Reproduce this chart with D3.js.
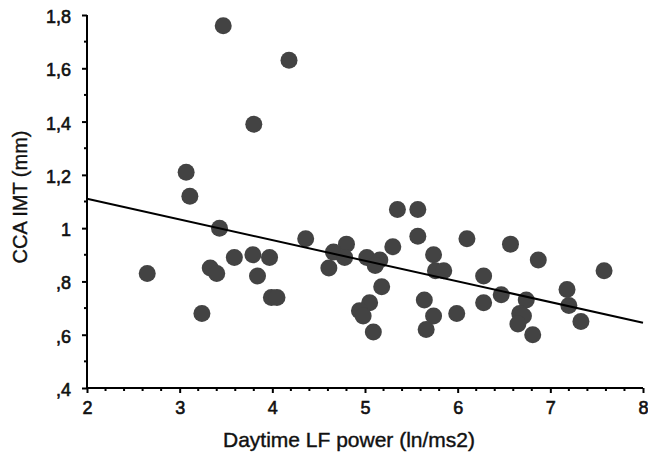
<!DOCTYPE html>
<html>
<head>
<meta charset="utf-8">
<script src="https://cdn.jsdelivr.net/npm/d3@7"></script>
<style>
  body { margin: 0; background: #fff; }
  text { font-family: "Liberation Sans", Arial, sans-serif; fill: #111; }
</style>
</head>
<body>
<div class="svg"></div>
<script>
// data
var lfPower = [3.47, 4.18, 3.80, 3.07, 3.11, 3.43, 2.65, 3.33, 3.40, 3.59,
               3.79, 3.97, 3.84, 3.99, 4.05, 3.24, 4.36, 4.80, 4.66, 4.78,
               4.61, 5.02, 5.16, 5.11, 5.30, 5.35, 5.57, 5.57, 5.18, 5.05,
               4.94, 4.98, 5.09, 5.64, 5.66, 5.74, 5.76, 5.85, 6.10, 6.57,
               6.87, 6.28, 6.47, 6.74, 5.74, 5.99, 6.28, 6.67, 6.71, 6.65,
               6.81, 7.58, 7.18, 7.20, 7.33];
var imt =     [1.76, 1.63, 1.39, 1.21, 1.12, 1.00, 0.83, 0.85, 0.83, 0.89,
               0.90, 0.89, 0.82, 0.74, 0.74, 0.68, 0.96, 0.94, 0.91, 0.89,
               0.85, 0.89, 0.88, 0.86, 0.93, 1.07, 1.07, 0.97, 0.78, 0.72,
               0.69, 0.67, 0.61, 0.73, 0.62, 0.90, 0.84, 0.84, 0.96, 0.94,
               0.88, 0.82, 0.75, 0.73, 0.67, 0.68, 0.72, 0.68, 0.67, 0.64,
               0.60, 0.84, 0.77, 0.71, 0.65];
var regX = [2, 8],
    regY = [1.11, 0.645];
var xTicks = [2, 3, 4, 5, 6, 7, 8],
    yTicks = [1.8, 1.6, 1.4, 1.2, 1.0, 0.8, 0.6, 0.4],
    yTickLabels = ["1,8", "1,6", "1,4", "1,2", "1", ",8", ",6", ",4"];

var width = 648,
    height = 457;

var svg = d3.select(".svg").append("svg")
    .attr("width", width)
    .attr("height", height);

var x = d3.scaleLinear().domain([2, 8]).range([87, 643]);
var y = d3.scaleLinear().domain([0.4, 1.8]).range([388, 15]);

// points
svg.append("g").selectAll("circle")
    .data(d3.range(lfPower.length))
    .enter().append("circle")
    .attr("cx", function (i) { return x(lfPower[i]); })
    .attr("cy", function (i) { return y(imt[i]); })
    .attr("r", 8.5)
    .attr("fill", "#434343");

// regression line
var line = d3.line()
    .x(function (d) { return x(d[0]); })
    .y(function (d) { return y(d[1]); });
svg.append("path")
    .attr("d", line(d3.zip(regX, regY)))
    .attr("fill", "none")
    .attr("stroke", "#000")
    .attr("stroke-width", 2);

// y axis
var yAxis = d3.axisLeft(y)
    .tickValues(yTicks)
    .tickSize(5)
    .tickPadding(11)
    .tickFormat(function (d, i) { return yTickLabels[i]; });
var gy = svg.append("g").attr("transform", "translate(87,0)").call(yAxis);
gy.select(".domain").remove();
gy.selectAll(".tick line").attr("stroke", "#000").attr("stroke-width", 2);
gy.selectAll(".tick text")
    .attr("font-size", 18)
    .attr("font-family", null)
    .attr("stroke", "#111")
    .attr("stroke-width", 0.6)
    .attr("dy", "0.42em");
gy.append("line")
    .attr("x1", 0).attr("x2", 0)
    .attr("y1", y(1.8)).attr("y2", y(0.4))
    .attr("stroke", "#000").attr("stroke-width", 2);
// minor y ticks
gy.selectAll(".minor")
    .data(d3.range(0.5, 1.8, 0.2))
    .enter().append("line")
    .attr("x1", -3).attr("x2", 0)
    .attr("y1", function (d) { return y(d); })
    .attr("y2", function (d) { return y(d); })
    .attr("stroke", "#000").attr("stroke-width", 2);

// x axis
var xAxis = d3.axisBottom(x)
    .tickValues(xTicks)
    .tickSize(5)
    .tickPadding(8)
    .tickFormat(d3.format("d"));
var gx = svg.append("g").attr("transform", "translate(0,388)").call(xAxis);
gx.select(".domain").remove();
gx.selectAll(".tick line").attr("stroke", "#000").attr("stroke-width", 2);
gx.selectAll(".tick text")
    .attr("font-size", 18)
    .attr("font-family", null)
    .attr("stroke", "#111")
    .attr("stroke-width", 0.6);
gx.append("line")
    .attr("x1", x(2)).attr("x2", x(8))
    .attr("y1", 0).attr("y2", 0)
    .attr("stroke", "#000").attr("stroke-width", 2);
gx.selectAll(".minor")
    .data(d3.range(2.2, 8, 0.2).filter(function (d) { return Math.abs(d - Math.round(d)) > 0.05; }))
    .enter().append("line")
    .attr("x1", function (d) { return x(d); })
    .attr("x2", function (d) { return x(d); })
    .attr("y1", 0).attr("y2", 3)
    .attr("stroke", "#000").attr("stroke-width", 2);

// axis titles
svg.append("text")
    .attr("x", 349)
    .attr("y", 447)
    .attr("text-anchor", "middle")
    .attr("font-size", 21)
    .attr("stroke", "#111")
    .attr("stroke-width", 0.4)
    .text("Daytime LF power (ln/ms2)");
svg.append("text")
    .attr("transform", "translate(27,197) rotate(-90)")
    .attr("text-anchor", "middle")
    .attr("font-size", 20)
    .attr("stroke", "#111")
    .attr("stroke-width", 0.4)
    .text("CCA IMT (mm)");
</script>
</body>
</html>
